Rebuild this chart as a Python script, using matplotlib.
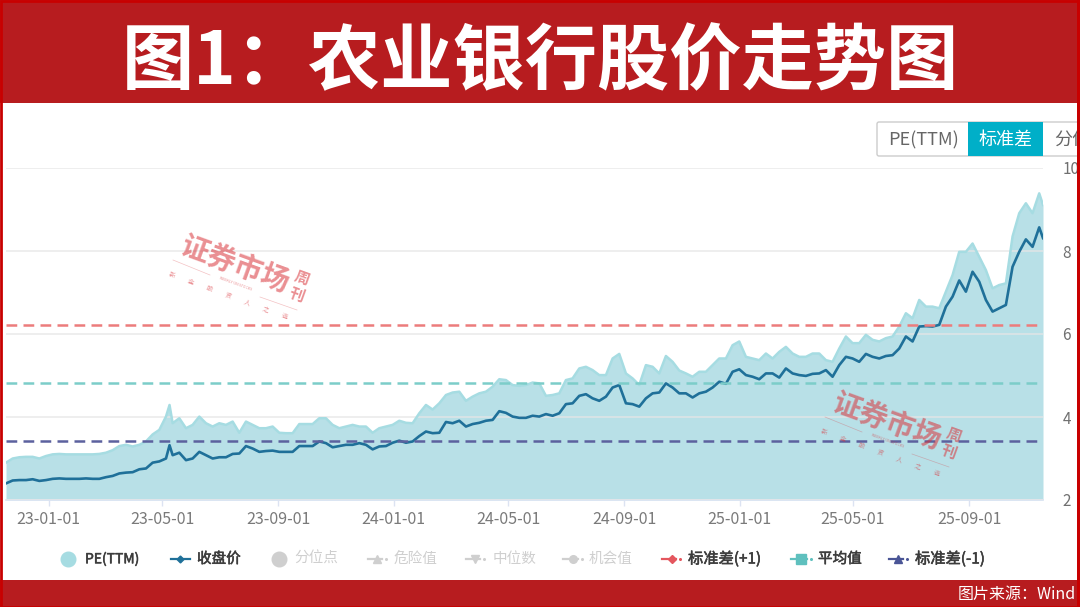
import pandas as pd
import matplotlib
matplotlib.use("Agg")
import matplotlib.pyplot as plt
import matplotlib.dates as mdates
import matplotlib.patheffects as pe
from matplotlib.patches import Rectangle, FancyBboxPatch

plt.rcParams['font.family'] = ['Noto Sans CJK SC', 'DejaVu Sans']

# weekly readings
pe_ttm = [2.90,3.00,3.03,3.04,3.04,3.00,3.06,3.10,3.11,3.10,3.10,3.10,3.10,3.10,3.11,3.14,3.20,3.30,
          3.33,3.29,3.33,3.41,3.58,3.69,4.01,3.85,3.97,3.73,3.81,4.01,3.85,3.77,3.85,3.81,3.89,3.62,
          3.89,3.81,3.73,3.73,3.77,3.62,3.61,3.61,3.83,3.83,3.83,3.97,3.97,3.81,3.73,3.77,3.81,3.77,
          3.77,3.62,3.73,3.77,3.81,3.91,3.86,3.85,4.09,4.29,4.18,4.33,4.53,4.59,4.61,4.39,4.49,4.57,
          4.61,4.73,4.91,4.89,4.77,4.75,4.77,4.83,4.81,4.51,4.53,4.57,4.89,4.93,5.17,5.21,5.13,5.01,
          5.01,5.41,5.52,5.05,4.93,4.77,5.25,5.21,5.05,5.47,5.33,5.12,5.05,4.97,5.09,5.09,5.25,5.41,
          5.41,5.73,5.82,5.45,5.41,5.37,5.53,5.41,5.57,5.69,5.53,5.45,5.45,5.53,5.53,5.37,5.33,5.65,
          5.94,5.78,5.78,5.98,5.86,5.82,5.90,5.94,6.18,6.50,6.38,6.82,6.66,6.66,6.62,7.02,7.42,7.98,
          7.98,8.18,7.86,7.54,7.10,7.18,7.22,8.35,8.91,9.15,8.91,9.39]
close = [2.40,2.47,2.48,2.48,2.50,2.46,2.48,2.51,2.52,2.51,2.51,2.51,2.52,2.51,2.51,2.55,2.58,2.64,
         2.66,2.67,2.74,2.76,2.90,2.93,3.00,3.08,3.14,2.96,3.00,3.16,3.08,3.00,3.03,3.03,3.11,3.12,
         3.30,3.24,3.16,3.18,3.19,3.16,3.16,3.16,3.30,3.30,3.30,3.41,3.37,3.27,3.30,3.33,3.33,3.37,
         3.33,3.22,3.29,3.30,3.38,3.43,3.38,3.41,3.54,3.65,3.61,3.62,3.88,3.85,3.91,3.77,3.83,3.86,
         3.91,3.93,4.14,4.10,4.01,3.98,3.98,4.03,4.01,4.07,4.03,4.09,4.31,4.33,4.51,4.55,4.45,4.39,
         4.49,4.71,4.77,4.33,4.31,4.25,4.45,4.57,4.59,4.81,4.71,4.57,4.57,4.47,4.57,4.61,4.71,4.85,
         4.80,5.09,5.15,5.01,4.97,4.91,5.05,5.05,4.95,5.17,5.05,5.01,4.99,5.04,5.05,5.13,4.97,5.25,
         5.45,5.41,5.33,5.52,5.45,5.41,5.47,5.49,5.65,5.94,5.82,6.18,6.19,6.18,6.22,6.66,6.90,7.29,
         7.02,7.50,7.26,6.82,6.54,6.62,6.70,7.62,7.98,8.28,8.10,8.57]
# the May 2023 spike and the last day fall between the weekly readings
extra_dates = ['2023-05-09', '2025-11-18']
extra_pe = [4.29, 9.11]
extra_close = [3.32, 8.31]

std_up = 6.22
mean_pe = 4.83
std_down = 3.42

x_ticks = ['2023-01-01', '2023-05-01', '2023-09-01', '2024-01-01', '2024-05-01',
           '2024-09-01', '2025-01-01', '2025-05-01', '2025-09-01']
y_ticks = [2, 4, 6, 8, 10]

W, H = 1080, 607
RED = '#B71C1F'
BORDER = '#C80000'
ON = '#3C3C3C'
OFF = '#CFCFCF'

df = pd.DataFrame({'pe': pe_ttm, 'close': close},
                  index=pd.date_range('2022-11-17', '2025-11-14', periods=len(pe_ttm)))
df = pd.concat([df, pd.DataFrame({'pe': extra_pe, 'close': extra_close},
                                 index=pd.to_datetime(extra_dates))]).sort_index()

fig = plt.figure(figsize=(W / 100, H / 100), dpi=100, facecolor='white')

# main chart
ax = fig.add_axes([6 / W, (H - 500) / H, 1037 / W, 332 / H])
ax.fill_between(df.index, df['pe'], 2, color='#B8E0E7', lw=0, zorder=2)
ax.plot(df.index, df['pe'], color='#A6DCE2', lw=1.8, zorder=3)
ax.plot(df.index, df['close'], color='#1F7099', lw=1.9, zorder=4)
for val, col in [(std_up, '#EC7C7C'), (mean_pe, '#7CCDC9'), (std_down, '#5C619E')]:
    ax.axhline(val, color=col, lw=1.8, dashes=(4.3, 2.5), zorder=5)

ax.set_xlim(pd.Timestamp('2022-11-17'), pd.Timestamp('2025-11-18'))
ax.set_ylim(2, 10)
ax.set_yticks(y_ticks)
ax.set_xticks(pd.to_datetime(x_ticks))
ax.xaxis.set_major_formatter(mdates.DateFormatter('%y-%m-%d'))
ax.grid(axis='y', color='#E6E6E6', lw=1.2)
ax.set_axisbelow(False)
for g in ax.get_ygridlines():
    g.set_zorder(2.5)
    g.set_alpha(0.8)
for s in ['top', 'left', 'right']:
    ax.spines[s].set_visible(False)
ax.spines['bottom'].set_color('#DCE3F2')
ax.spines['bottom'].set_linewidth(1.2)
ax.tick_params(axis='x', length=4, width=1, color='#DCE3F2', labelcolor='#7A7A7A',
               labelsize=11.5, pad=4)
ax.tick_params(axis='y', length=0, labelcolor='#707070', labelsize=11, labelright=True,
               labelleft=False, pad=14)
for t in ax.get_yticklabels():
    t.set_ha('left')

# everything around the chart sits on a pixel overlay
ov = fig.add_axes([0, 0, 1, 1], facecolor='none')
ov.set_xlim(0, W)
ov.set_ylim(H, 0)
ov.axis('off')


def watermark(cx, cy):
    col = '#D9333A'
    ov.text(cx, cy, '证券市场', color=col, alpha=0.55, fontsize=20.5, fontweight='bold',
            rotation=-20, rotation_mode='anchor', ha='center', va='center')
    ov.text(cx + 67, cy + 13, '周', color=col, alpha=0.55, fontsize=11, fontweight='bold',
            rotation=-20, ha='center', va='center')
    ov.text(cx + 62, cy + 30, '刊', color=col, alpha=0.55, fontsize=11, fontweight='bold',
            rotation=-20, ha='center', va='center')
    ov.text(cx, cy + 19, 'WEEKLY ON STOCKS', color=col, alpha=0.55, fontsize=2.6,
            rotation=-20, ha='center', va='center')
    ov.plot([cx - 62, cx - 25], [cy - 5, cy + 10], color=col, alpha=0.3, lw=0.5)
    ov.plot([cx + 25, cx + 62], [cy + 32, cy + 45], color=col, alpha=0.3, lw=0.5)
    ov.text(cx - 7, cy + 31, (' ' * 10).join('新金股资人之选'), color=col, alpha=0.55,
            fontsize=4.5, rotation=-20, ha='center', va='center')


watermark(235, 265)
watermark(887, 422)

# title band and footer band
ov.add_patch(Rectangle((0, 0), W, 103, color=RED, lw=0, zorder=6))
ov.add_patch(Rectangle((0, 580), W, 27, color=RED, lw=0, zorder=6))
ov.text(540, 63, '图1\uff1a农业银行股价走势图', color='white', fontsize=52, fontweight='black',
        ha='center', va='center', zorder=7)
ov.text(1076, 594, '图片来源\uff1aWind', color='white', fontsize=11.5, ha='right', va='center', zorder=7)

# button group top right
ov.add_patch(FancyBboxPatch((877, 122), 210, 34, boxstyle='round,pad=0,rounding_size=2',
                            fc='white', ec='#CCCCCC', lw=1, zorder=6))
ov.add_patch(Rectangle((968, 122), 75, 34, color='#00AFC8', lw=0, zorder=6))
ov.text(923, 140, 'PE(TTM)', color='#666666', fontsize=13, ha='center', va='center', zorder=7)
ov.text(1005.5, 140, '标准差', color='white', fontsize=13, ha='center', va='center', zorder=7)
ov.text(1054, 140, '分位', color='#666666', fontsize=13, ha='left', va='center', zorder=7)

# legend, read left to right: label, colour, marker, size, marker x, line x0, line x1, text x, font size, active
legend_items = [
    ('PE(TTM)', '#A6DCE2', 'o', 10.5, 68, None, None, 85, 10, True),
    ('收盘价', '#1F7099', 'D', 3.5, 180, 170.5, 190, 197, 10.5, True),
    ('分位点', OFF, 'o', 10.5, 279, None, None, 294, 10.5, False),
    ('危险值', OFF, '^', 6, 377, 368, 382, 394, 10.5, False),
    ('中位数', OFF, 'v', 6, 474.5, 465.5, 480, 492.5, 10.5, False),
    ('机会值', OFF, 'o', 5.5, 573, 563, 578, 589, 10.5, False),
    ('标准差(+1)', '#E4565E', 'D', 4.5, 671.5, 661.5, 676, 688, 11, True),
    ('平均值', '#5FC0BE', 's', 6.5, 801, 791, 807, 818, 10.5, True),
    ('标准差(-1)', '#4A5596', '^', 6, 898, 888.5, 903, 915, 11, True),
]
y_leg = 559
for label, col, mk, ms, mx, x0, x1, tx, fs, active in legend_items:
    if x0 is not None:
        ov.plot([x0, x1], [y_leg, y_leg], color=col, lw=1.6)
        if label != '收盘价':
            ov.plot([x1 + 4], [y_leg], 'o', color=col, ms=1.2)
    ov.plot([mx], [y_leg], mk, color=col, ms=ms)
    if active:
        ov.text(tx, y_leg, label, color=ON, fontsize=fs, ha='left', va='center',
                path_effects=[pe.withStroke(linewidth=0.4, foreground=ON)])
    else:
        ov.text(tx, y_leg, label, color=OFF, fontsize=fs, ha='left', va='center')

# bright red frame round the whole picture
ov.add_patch(Rectangle((0.5, 0.5), W - 1, H - 1, fill=False, ec=BORDER, lw=2, zorder=8))
ov.add_patch(Rectangle((1077, 0), 3, H, color=BORDER, lw=0, zorder=8))

fig.savefig('out.png', dpi=100)
